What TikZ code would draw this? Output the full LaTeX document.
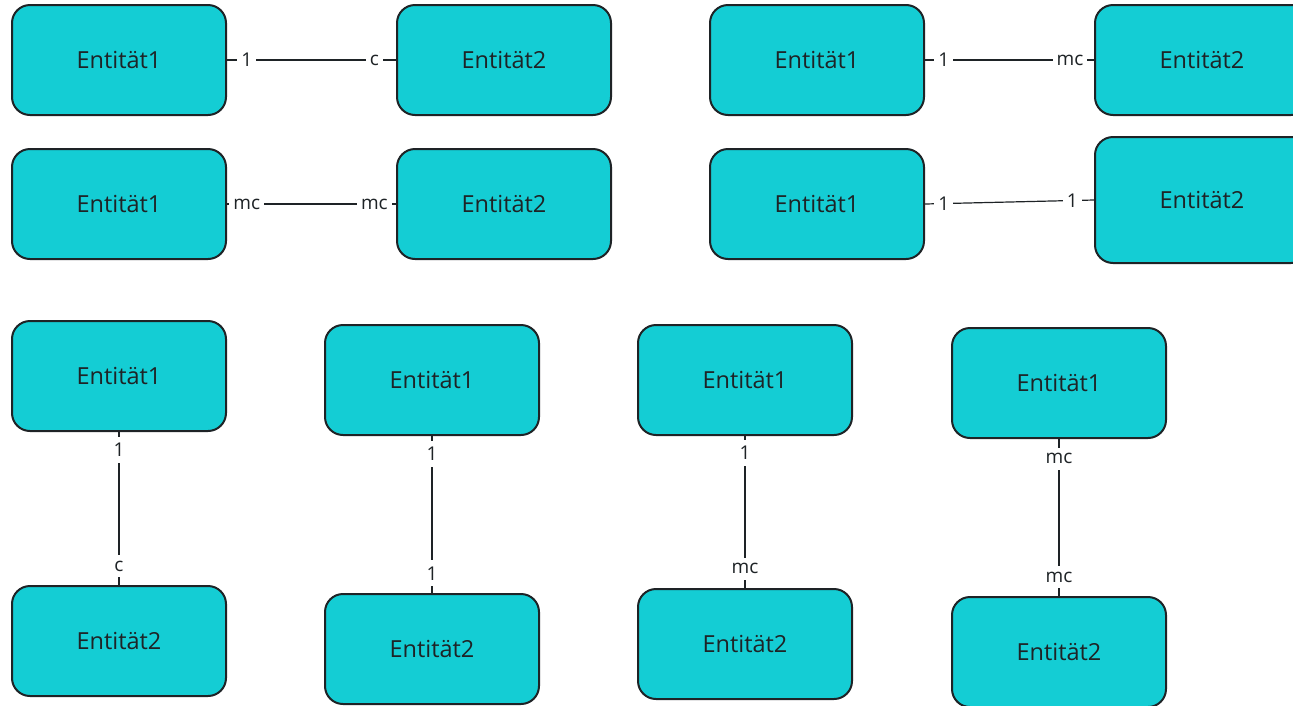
\documentclass[tikz,border=0pt]{standalone}
\usepackage{fontspec}
\setmainfont{Open Sans}
\definecolor{boxcyan}{HTML}{14CDD4}
\definecolor{edge}{HTML}{1E2326}
\begin{document}
\begin{tikzpicture}[x=1pt,y=-1pt,
  entity/.style={draw=edge, line width=2pt, fill=boxcyan, rounded corners=18pt,
    minimum width=214pt, minimum height=110pt, inner sep=0pt,
    font=\fontsize{23.5}{27}\selectfont, text=edge},
  conn/.style={draw=edge, line width=1.2pt},
  lab/.style={fill=white, inner sep=4pt, font=\fontsize{19}{22}\selectfont, text=edge},
  vlab/.style={lab, inner ysep=6pt}]
\useasboundingbox (0,0) rectangle (1293,705);
\clip (0,0) rectangle (1293,705);
% row 1
\node[entity] (A1) at (119,60) {Entität1};
\node[entity] (A2) at (504,60) {Entität2};
\node[entity] (B1) at (817,60) {Entität1};
\node[entity] (B2) at (1202,60) {Entität2};
% row 2
\node[entity] (C1) at (119,204) {Entität1};
\node[entity] (C2) at (504,204) {Entität2};
\node[entity] (D1) at (817,204) {Entität1};
\node[entity, minimum height=126pt] (D2) at (1202,200) {Entität2};
% row 3
\node[entity] (E1) at (119,376) {Entität1};
\node[entity] (E2) at (119,641) {Entität2};
\node[entity] (F1) at (432,380) {Entität1};
\node[entity] (F2) at (432,649) {Entität2};
\node[entity] (G1) at (745,380) {Entität1};
\node[entity] (G2) at (745,644) {Entität2};
\node[entity] (H1) at (1059,383) {Entität1};
\node[entity] (H2) at (1059,652) {Entität2};
% horizontal connectors
\draw[conn] (A1.east) -- (A2.west) node[lab,pos=0.117] {1} node[lab,pos=0.872] {c};
\draw[conn] (B1.east) -- (B2.west) node[lab,pos=0.111] {1} node[lab,pos=0.858] {mc};
\draw[conn] (C1.east) -- (C2.west) node[lab,pos=0.117] {mc} node[lab,pos=0.872] {mc};
\draw[conn] (D1.east) -- (D2.west) node[lab,pos=0.111] {1} node[lab,pos=0.872] {1};
% vertical connectors
\draw[conn] (E1.south) -- (E2.north) node[vlab,pos=0.116] {1} node[vlab,pos=0.877] {c};
\draw[conn] (F1.south) -- (F2.north) node[vlab,pos=0.113] {1} node[vlab,pos=0.874] {1};
\draw[conn] (G1.south) -- (G2.north) node[vlab,pos=0.113] {1} node[vlab,pos=0.874] {mc};
\draw[conn] (H1.south) -- (H2.north) node[vlab,pos=0.126] {mc} node[vlab,pos=0.88] {mc};
\end{tikzpicture}
\end{document}
